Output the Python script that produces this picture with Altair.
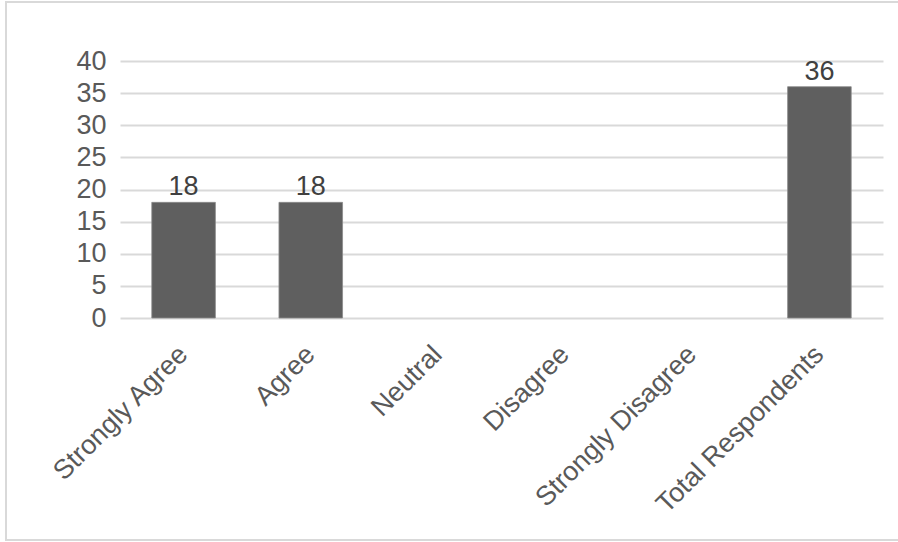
import altair as alt
import pandas as pd

# Survey response counts
categories = ["Strongly Agree", "Agree", "Neutral", "Disagree",
              "Strongly Disagree", "Total Respondents"]
counts = [18, 18, 0, 0, 0, 36]
labels = ["18", "18", "", "", "", "36"]

df = pd.DataFrame({"category": categories, "count": counts, "label": labels})

W, H = 763, 257
FONT = "Liberation Sans"
TEXT = "#595959"
FS = 27

x_enc = alt.X(
    "category:N",
    sort=categories,
    scale=alt.Scale(paddingInner=0.5, paddingOuter=0.25),
    axis=alt.Axis(
        title=None, labelAngle=-45, labelAlign="right", labelBaseline="middle",
        labelFont=FONT, labelFontSize=FS, labelColor=TEXT, labelPadding=32,
        ticks=False, domain=False, grid=False, labelLimit=400,
        labelOverlap=False,
    ),
)
y_enc = alt.Y(
    "count:Q",
    scale=alt.Scale(domain=[0, 40], nice=False),
    axis=alt.Axis(
        title=None, values=list(range(0, 41, 5)), labelFont=FONT,
        labelFontSize=FS, labelColor=TEXT, labelPadding=14, ticks=False,
        domain=False, gridColor="#d9d9d9", gridWidth=2, labelOverlap=False,
    ),
)

bars = alt.Chart(df).mark_bar(
    color="#5f5f5f", stroke="#8a8a8a", strokeWidth=0.8
).encode(
    x=x_enc, y=y_enc,
    strokeOpacity=alt.condition("datum.count > 0", alt.value(1), alt.value(0)),
)

text = alt.Chart(df).mark_text(
    baseline="bottom", dy=-1, font=FONT, fontSize=FS, color="#404040"
).encode(x=x_enc, y=y_enc, text="label:N")

frame = alt.Chart(df).mark_rect(
    fill=None, stroke="#d9d9d9", strokeWidth=1.5
).encode(
    x=alt.value(-114), x2=alt.value(W + 40),
    y=alt.value(-59), y2=alt.value(H + 222),
)

chart = alt.layer(frame, bars, text).properties(
    width=W, height=H,
    autosize=alt.AutoSizeParams(type="none"),
    padding={"left": 120, "top": 61, "right": 15, "bottom": 224},
    background="white",
).configure_view(stroke=None)

chart.save("out.html", embed_options={"renderer": "svg", "actions": False})
